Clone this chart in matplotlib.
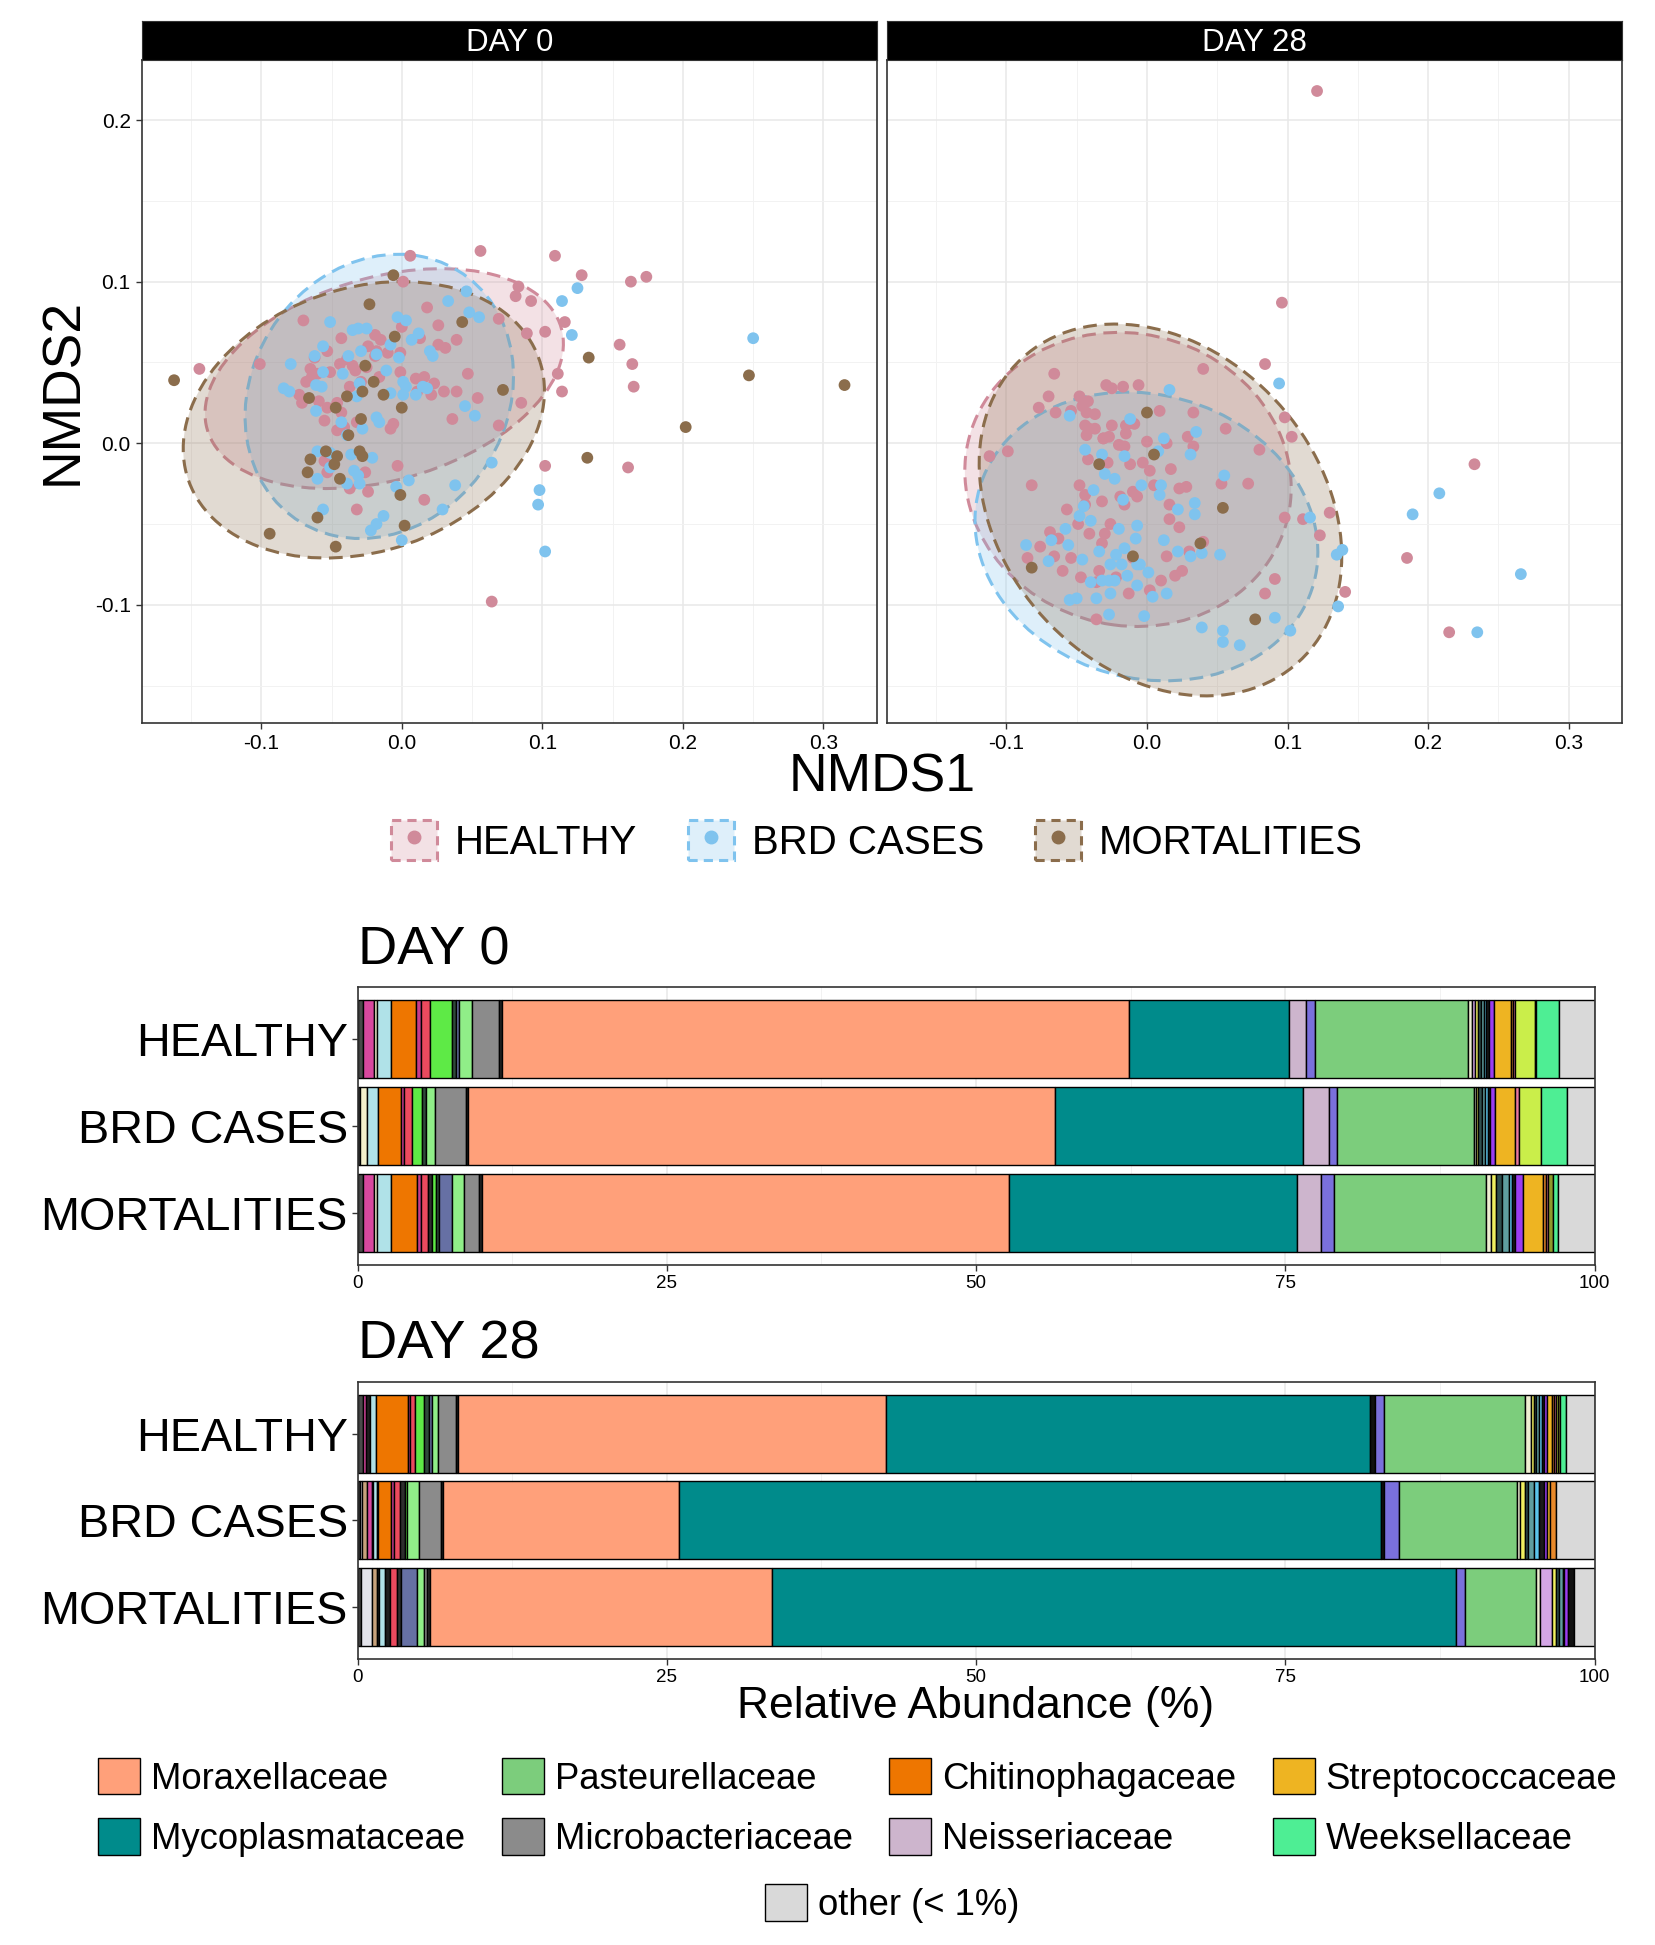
import numpy as np
import matplotlib
matplotlib.use("Agg")
import matplotlib.pyplot as plt
from matplotlib.patches import Ellipse, Patch
from matplotlib.lines import Line2D
from matplotlib.legend_handler import HandlerTuple
from matplotlib.colors import to_rgba

plt.rcParams["font.family"] = ["Liberation Sans", "DejaVu Sans"]
plt.rcParams["axes.unicode_minus"] = False

groups = ["HEALTHY", "BRD CASES", "MORTALITIES"]
group_colors = ["#d08a9a", "#7fc3ee", "#8b6d4c"]
days = ["DAY 0", "DAY 28"]

# NMDS scores
day0_healthy = [(0.056, 0.119), (0.006, 0.116), (0.109, 0.116), (0.128, 0.104), (0.174, 0.103),
                (0.163, 0.100), (0.001, 0.100), (0.083, 0.097), (0.081, 0.091), (0.092, 0.088),
                (0.018, 0.084), (-0.070, 0.076), (0.069, 0.077), (0.026, 0.073), (0.000, 0.072),
                (0.116, 0.075), (0.102, 0.069), (0.089, 0.068), (-0.043, 0.065), (-0.019, 0.067),
                (-0.015, 0.064), (0.039, 0.064), (0.026, 0.061), (0.031, 0.059), (0.013, 0.065),
                (-0.024, 0.060), (0.155, 0.061), (0.164, 0.049), (-0.144, 0.046), (-0.101, 0.049),
                (-0.062, 0.053), (-0.053, 0.057), (-0.044, 0.049), (-0.039, 0.052), (-0.035, 0.048),
                (-0.065, 0.046), (-0.064, 0.041), (-0.060, 0.043), (-0.051, 0.044), (-0.033, 0.045),
                (-0.025, 0.047), (-0.019, 0.054), (-0.010, 0.056), (-0.001, 0.056), (-0.001, 0.044),
                (-0.016, 0.041), (0.010, 0.040), (0.016, 0.041), (0.023, 0.037), (0.030, 0.032),
                (0.039, 0.032), (0.047, 0.043), (0.054, 0.028), (0.111, 0.043), (0.114, 0.032),
                (0.165, 0.035), (0.085, 0.025), (-0.073, 0.030), (-0.071, 0.025), (-0.059, 0.026),
                (-0.046, 0.025), (-0.053, 0.022), (-0.043, 0.019), (-0.055, 0.014), (-0.046, 0.008),
                (-0.041, 0.010), (-0.032, 0.013), (-0.008, 0.009), (-0.006, 0.012), (0.021, 0.030),
                (0.011, 0.032), (0.036, 0.015), (0.069, 0.011), (0.102, -0.014), (0.161, -0.015),
                (-0.003, -0.014), (-0.026, -0.018), (-0.053, -0.018), (-0.055, -0.011), (-0.037, -0.028),
                (-0.024, -0.030), (0.016, -0.035), (-0.032, -0.041), (0.064, -0.098), (-0.029, 0.038),
                (-0.037, 0.035), (-0.018, 0.057), (-0.068, 0.038)]
day0_brd = [(0.125, 0.096), (0.114, 0.088), (0.121, 0.067), (0.250, 0.065), (0.046, 0.094),
            (0.033, 0.088), (0.048, 0.081), (0.055, 0.078), (-0.003, 0.078), (0.003, 0.076),
            (-0.051, 0.075), (-0.035, 0.070), (-0.031, 0.071), (-0.025, 0.071), (0.012, 0.068),
            (0.007, 0.064), (-0.008, 0.061), (-0.002, 0.053), (0.020, 0.057), (0.022, 0.054),
            (-0.018, 0.055), (-0.029, 0.057), (-0.038, 0.054), (-0.056, 0.060), (-0.062, 0.054),
            (-0.079, 0.049), (-0.056, 0.044), (-0.042, 0.043), (-0.030, 0.037), (-0.011, 0.045),
            (0.001, 0.038), (0.003, 0.035), (0.015, 0.035), (0.018, 0.034), (-0.008, 0.031),
            (0.001, 0.030), (0.010, 0.030), (-0.032, 0.029), (-0.084, 0.034), (-0.080, 0.032),
            (-0.061, 0.036), (-0.057, 0.035), (0.045, 0.023), (0.052, 0.017), (-0.018, 0.016),
            (-0.016, 0.013), (-0.028, 0.009), (-0.039, 0.005), (-0.043, 0.013), (-0.061, 0.020),
            (-0.060, -0.005), (-0.051, -0.006), (-0.036, -0.007), (-0.021, -0.009), (0.064, -0.012),
            (-0.034, -0.017), (-0.031, -0.020), (-0.051, -0.015), (-0.060, -0.022), (-0.039, -0.025),
            (-0.030, -0.025), (-0.004, -0.027), (0.005, -0.023), (0.038, -0.026), (0.098, -0.029),
            (0.097, -0.038), (0.029, -0.041), (-0.013, -0.045), (-0.018, -0.050), (-0.022, -0.054),
            (-0.056, -0.041), (0.000, -0.060), (0.102, -0.067)]
day0_mort = [(-0.006, 0.104), (-0.023, 0.086), (0.043, 0.075), (-0.005, 0.066), (-0.026, 0.048),
             (-0.020, 0.038), (-0.013, 0.030), (-0.028, 0.032), (-0.039, 0.029), (-0.066, 0.028),
             (-0.047, 0.022), (0.000, 0.022), (-0.029, 0.015), (-0.038, 0.005), (0.072, 0.033),
             (0.133, 0.053), (0.247, 0.042), (0.315, 0.036), (0.202, 0.010), (0.132, -0.009),
             (-0.162, 0.039), (-0.054, -0.005), (-0.065, -0.010), (-0.046, -0.008), (-0.030, -0.005),
             (-0.028, -0.008), (-0.048, -0.013), (-0.067, -0.018), (-0.044, -0.022), (-0.001, -0.032),
             (-0.060, -0.046), (0.002, -0.051), (-0.094, -0.056), (-0.047, -0.064)]

day28_healthy = [(0.121, 0.218), (0.096, 0.087), (0.084, 0.049), (0.040, 0.046), (-0.066, 0.043),
                 (-0.070, 0.029), (-0.029, 0.036), (-0.025, 0.034), (-0.017, 0.035), (-0.006, 0.036),
                 (-0.048, 0.029), (-0.042, 0.026), (-0.046, 0.023), (-0.077, 0.022), (-0.065, 0.019),
                 (-0.054, 0.020), (-0.043, 0.019), (-0.037, 0.018), (0.009, 0.020), (0.033, 0.019),
                 (-0.009, 0.012), (-0.015, 0.011), (-0.025, 0.011), (-0.044, 0.011), (-0.041, 0.009),
                 (-0.037, 0.009), (-0.043, 0.005), (-0.015, 0.006), (-0.031, 0.003), (-0.027, 0.004),
                 (0.056, 0.009), (0.098, 0.016), (0.103, 0.004), (0.029, 0.004), (0.014, 0.000),
                 (0.000, 0.001), (0.033, -0.002), (0.080, -0.004), (-0.112, -0.008), (-0.099, -0.005),
                 (-0.016, -0.002), (-0.020, -0.001), (-0.031, 0.003), (-0.042, -0.010), (-0.028, -0.012),
                 (-0.003, -0.012), (-0.012, -0.013), (0.017, -0.016), (0.002, -0.017), (-0.082, -0.026),
                 (-0.048, -0.026), (-0.044, -0.032), (-0.032, -0.036), (-0.019, -0.033), (-0.010, -0.030),
                 (-0.007, -0.033), (0.005, -0.026), (0.028, -0.027), (0.023, -0.028), (0.053, -0.025),
                 (0.072, -0.025), (0.016, -0.038), (-0.057, -0.041), (-0.016, -0.038), (-0.044, -0.038),
                 (0.098, -0.046), (0.111, -0.047), (0.130, -0.043), (0.233, -0.013), (0.185, -0.071),
                 (0.215, -0.117), (0.123, -0.057), (0.141, -0.092), (0.091, -0.084), (0.084, -0.093),
                 (-0.069, -0.055), (-0.063, -0.059), (-0.049, -0.050), (-0.041, -0.056), (-0.032, -0.062),
                 (-0.030, -0.056), (-0.026, -0.050), (-0.085, -0.071), (-0.076, -0.064), (-0.066, -0.070),
                 (-0.060, -0.079), (-0.054, -0.071), (-0.047, -0.083), (-0.034, -0.079), (-0.036, -0.086),
                 (-0.013, -0.093), (0.002, -0.091), (0.010, -0.085), (0.020, -0.082), (0.025, -0.079),
                 (0.014, -0.070), (0.030, -0.067), (0.040, -0.061), (-0.036, -0.109), (-0.010, -0.071),
                 (0.023, -0.052), (0.016, -0.047), (-0.022, -0.083)]
day28_brd = [(0.094, 0.037), (0.016, 0.033), (-0.055, 0.017), (-0.012, 0.015), (0.035, 0.007),
             (0.012, 0.003), (0.031, -0.007), (-0.032, -0.007), (-0.016, -0.008), (-0.044, -0.004),
             (0.008, -0.005), (0.055, -0.020), (-0.030, -0.019), (-0.023, -0.022), (-0.004, -0.026),
             (0.010, -0.026), (0.009, -0.032), (-0.038, -0.029), (-0.017, -0.035), (0.034, -0.037),
             (0.022, -0.041), (0.034, -0.044), (-0.048, -0.045), (-0.040, -0.048), (-0.058, -0.053),
             (-0.020, -0.053), (-0.007, -0.051), (-0.008, -0.059), (0.012, -0.060), (-0.086, -0.063),
             (-0.068, -0.060), (-0.056, -0.063), (-0.034, -0.067), (-0.016, -0.065), (-0.022, -0.069),
             (0.022, -0.067), (0.031, -0.070), (0.039, -0.068), (0.052, -0.069), (-0.070, -0.073),
             (-0.046, -0.072), (-0.018, -0.075), (-0.026, -0.075), (-0.007, -0.075), (0.001, -0.080),
             (-0.005, -0.075), (-0.027, -0.085), (-0.023, -0.085), (-0.014, -0.082), (-0.007, -0.088),
             (-0.040, -0.086), (-0.032, -0.085), (-0.055, -0.097), (-0.050, -0.096), (-0.036, -0.096),
             (-0.026, -0.093), (0.004, -0.095), (0.014, -0.093), (-0.027, -0.106), (-0.002, -0.107),
             (0.039, -0.114), (0.054, -0.116), (0.054, -0.123), (0.066, -0.125), (0.091, -0.108),
             (0.102, -0.116), (0.116, -0.046), (0.135, -0.069), (0.139, -0.066), (0.136, -0.101),
             (0.189, -0.044), (0.208, -0.031), (0.235, -0.117), (0.266, -0.081), (-0.045, -0.039)]
day28_mort = [(0.000, 0.019), (0.005, -0.007), (-0.034, -0.013), (0.054, -0.040), (0.038, -0.062),
              (-0.010, -0.070), (-0.082, -0.077), (0.077, -0.109)]

# 95% ellipses: centre x, centre y, semi-axis a, semi-axis b, angle (deg)
day0_ellipses = [(-0.0125, 0.040, 0.1299, 0.0633, 12.7),
                 (-0.016, 0.029, 0.099, 0.084, 29.9),
                 (-0.027, 0.0145, 0.1306, 0.0823, 13.3)]
day28_ellipses = [(-0.0135, -0.0224, 0.1164, 0.0906, -6.7),
                  (-0.0004, -0.0577, 0.1228, 0.0882, -9.6),
                  (0.0096, -0.0413, 0.1379, 0.1042, -32.7)]

# relative abundance (%), families in stacking order
fam_order = ["dk1", "lav", "tan", "mag", "pale", "blk0", "lblue", "blk1", "Chitinophagaceae",
             "pink2", "red", "dk2", "bgreen", "dolive", "slate", "lgreen", "Microbacteriaceae",
             "blk2", "Moraxellaceae", "Mycoplasmataceae", "blk3", "Neisseriaceae", "sblue",
             "Pasteurellaceae", "pale2", "lilac", "yellow", "dslate", "cadet", "sky", "blk4",
             "purple", "Streptococcaceae", "dorange", "pink", "ygreen", "olive", "blk5",
             "Weeksellaceae", "other"]
fam_colors = {"dk1": "#4a4a4a", "lav": "#e3e3ea", "tan": "#c8a27c", "mag": "#d8489e",
              "pale": "#f2efcb", "blk0": "#1e1e1e", "lblue": "#b0e2e8", "blk1": "#1e1e1e",
              "Chitinophagaceae": "#ee7600", "pink2": "#c73b8c", "red": "#eb4a5e", "dk2": "#2e2e2e",
              "bgreen": "#5eea46", "dolive": "#2f4a3a", "slate": "#6670a4", "lgreen": "#90ee88",
              "Microbacteriaceae": "#8b8b8b", "blk2": "#262626", "Moraxellaceae": "#ffa07a",
              "Mycoplasmataceae": "#008b8b", "blk3": "#111111", "Neisseriaceae": "#cdb5cd",
              "sblue": "#7a70dc", "Pasteurellaceae": "#7ccd7c", "pale2": "#eeeed2", "lilac": "#d4a6e6",
              "yellow": "#f0f060", "dslate": "#2f4f4f", "cadet": "#5f9ea0", "sky": "#5bc4ea",
              "blk4": "#1a1a1a", "purple": "#9b3df0", "Streptococcaceae": "#eeb422",
              "dorange": "#e8892a", "pink": "#e8799e", "ygreen": "#caee4a", "olive": "#8e9a2a",
              "blk5": "#111111", "Weeksellaceae": "#4eee94", "other": "#d9d9d9"}

ab_day0_healthy = {"dk1": 0.42, "mag": 0.88, "pale": 0.26, "lblue": 1.15, "Chitinophagaceae": 1.98,
                   "pink2": 0.41, "red": 0.73, "bgreen": 1.83, "dolive": 0.26, "slate": 0.31,
                   "lgreen": 1.04, "Microbacteriaceae": 2.19, "blk2": 0.21, "Moraxellaceae": 50.73,
                   "Mycoplasmataceae": 12.9, "Neisseriaceae": 1.4, "sblue": 0.7,
                   "Pasteurellaceae": 12.36, "pale2": 0.35, "lilac": 0.22, "yellow": 0.27,
                   "dslate": 0.25, "cadet": 0.21, "sky": 0.2, "blk4": 0.21, "purple": 0.41,
                   "Streptococcaceae": 1.36, "dorange": 0.14, "pink": 0.21, "ygreen": 1.61,
                   "olive": 0.08, "Weeksellaceae": 1.85, "other": 2.87}
ab_day0_brd = {"dk1": 0.21, "pale": 0.57, "lblue": 0.89, "Chitinophagaceae": 1.82, "pink2": 0.26,
               "red": 0.63, "bgreen": 0.83, "dolive": 0.31, "lgreen": 0.73, "Microbacteriaceae": 2.5,
               "blk2": 0.21, "Moraxellaceae": 47.44, "Mycoplasmataceae": 20.06, "Neisseriaceae": 2.08,
               "sblue": 0.66, "Pasteurellaceae": 11.02, "pale2": 0.16, "yellow": 0.19, "dslate": 0.36,
               "cadet": 0.21, "sky": 0.22, "blk4": 0.19, "purple": 0.38, "Streptococcaceae": 1.63,
               "pink": 0.3, "ygreen": 1.85, "Weeksellaceae": 2.09, "other": 2.2}
ab_day0_mort = {"dk1": 0.42, "mag": 0.88, "pale": 0.26, "lblue": 1.15, "Chitinophagaceae": 2.08,
                "pink2": 0.31, "red": 0.63, "dk2": 0.26, "bgreen": 0.36, "dolive": 0.21, "slate": 1.10,
                "lgreen": 0.93, "Microbacteriaceae": 1.2, "blk2": 0.31, "Moraxellaceae": 42.56,
                "Mycoplasmataceae": 23.28, "Neisseriaceae": 1.98, "sblue": 1.04,
                "Pasteurellaceae": 12.24, "pale2": 0.41, "yellow": 0.41, "dslate": 0.49,
                "cadet": 0.54, "sky": 0.28, "blk4": 0.27, "purple": 0.6, "Streptococcaceae": 1.63,
                "dorange": 0.22, "pink": 0.16, "olive": 0.44, "Weeksellaceae": 0.38, "other": 2.97}
ab_day28_healthy = {"dk1": 0.46, "mag": 0.19, "blk0": 0.35, "lblue": 0.47, "Chitinophagaceae": 2.61,
                    "pink2": 0.19, "red": 0.4, "bgreen": 0.74, "dolive": 0.35, "slate": 0.22,
                    "lgreen": 0.54, "Microbacteriaceae": 1.41, "blk2": 0.22, "Moraxellaceae": 34.55,
                    "Mycoplasmataceae": 39.11, "blk3": 0.41, "sblue": 0.76, "Pasteurellaceae": 11.43,
                    "pale2": 0.47, "yellow": 0.19, "dslate": 0.21, "cadet": 0.22, "sky": 0.22,
                    "blk4": 0.21, "purple": 0.22, "Streptococcaceae": 0.38, "dorange": 0.17,
                    "pink": 0.16, "ygreen": 0.19, "olive": 0.19, "Weeksellaceae": 0.49, "other": 2.27}
ab_day28_brd = {"dk1": 0.19, "lav": 0.19, "tan": 0.35, "mag": 0.41, "blk0": 0.14, "lblue": 0.32,
                "blk1": 0.08, "Chitinophagaceae": 1.04, "pink2": 0.19, "red": 0.49, "dk2": 0.4,
                "bgreen": 0.19, "lgreen": 0.96, "Microbacteriaceae": 1.76, "blk2": 0.19,
                "Moraxellaceae": 19.1, "Mycoplasmataceae": 56.77, "blk3": 0.22, "sblue": 1.19,
                "Pasteurellaceae": 9.55, "pale2": 0.24, "yellow": 0.44, "dslate": 0.21, "cadet": 0.52,
                "sky": 0.36, "blk4": 0.43, "purple": 0.22, "Streptococcaceae": 0.22, "dorange": 0.49,
                "other": 3.14}
ab_day28_mort = {"dk1": 0.27, "lav": 0.93, "tan": 0.35, "blk0": 0.19, "lblue": 0.49, "blk1": 0.41,
                 "red": 0.54, "dk2": 0.35, "slate": 1.28, "lgreen": 0.6, "Microbacteriaceae": 0.2,
                 "blk2": 0.21, "Moraxellaceae": 27.66, "Mycoplasmataceae": 55.33, "sblue": 0.7,
                 "Pasteurellaceae": 5.77, "pale2": 0.28, "lilac": 1.03, "yellow": 0.33, "dslate": 0.22,
                 "cadet": 0.27, "blk4": 0.11, "purple": 0.36, "blk5": 0.46, "other": 1.66}

legend_fams = ["Moraxellaceae", "Mycoplasmataceae", "Pasteurellaceae", "Microbacteriaceae",
               "Chitinophagaceae", "Neisseriaceae", "Streptococcaceae", "Weeksellaceae"]

fig = plt.figure(figsize=(16.56, 19.45), dpi=100)

xticks = [-0.1, 0.0, 0.1, 0.2, 0.3]
yticks = [-0.1, 0.0, 0.1, 0.2]


def nmds_panel(left, title, pts_list, ells, show_y):
    ax = fig.add_axes([left, 0.6284, 0.4439, 0.3406])
    ax.set_xlim(-0.185, 0.338)
    ax.set_ylim(-0.173, 0.237)
    ax.set_xticks(xticks)
    ax.set_xticklabels([f"{v:.1f}" for v in xticks], fontsize=15)
    ax.set_yticks(yticks)
    ax.set_xticks([-0.15, -0.05, 0.05, 0.15, 0.25], minor=True)
    ax.set_yticks([-0.15, -0.05, 0.05, 0.15], minor=True)
    ax.tick_params(which="minor", length=0)
    ax.tick_params(which="major", length=4, width=1, color="#333333", pad=4)
    if show_y:
        ax.set_yticklabels([f"{v:.1f}" for v in yticks], fontsize=15)
    else:
        ax.set_yticklabels([])
        ax.tick_params(axis="y", which="major", length=0)
    ax.grid(which="major", color="#e8e8e8", linewidth=1.1)
    ax.grid(which="minor", color="#f2f2f2", linewidth=0.7)
    ax.set_axisbelow(True)
    for s in ax.spines.values():
        s.set_color("#333333")
        s.set_linewidth(1.2)
    for (cx, cy, a, b, ang), c in zip(ells, group_colors):
        ax.add_patch(Ellipse((cx, cy), 2 * a, 2 * b, angle=ang, facecolor=to_rgba(c, 0.25),
                             edgecolor=c, linestyle=(0, (4.5, 2.5)), linewidth=2.2, zorder=2))
    for pts, c in zip(pts_list, group_colors):
        p = np.array(pts)
        ax.scatter(p[:, 0], p[:, 1], s=72, color=c, edgecolors="none", zorder=3)
    strip = fig.add_axes([left, 0.969, 0.4439, 0.020])
    strip.set_facecolor("black")
    strip.set_xticks([])
    strip.set_yticks([])
    for s in strip.spines.values():
        s.set_color("#333333")
    strip.text(0.5, 0.45, title, color="white", fontsize=22.5, ha="center", va="center",
               transform=strip.transAxes)
    return ax


nmds_panel(0.0856, days[0], [day0_healthy, day0_brd, day0_mort], day0_ellipses, True)
nmds_panel(0.5356, days[1], [day28_healthy, day28_brd, day28_mort], day28_ellipses, False)

fig.text(0.5326, 0.600, "NMDS1", fontsize=38.5, ha="center", va="center")
fig.text(0.038, 0.7987, "NMDS2", fontsize=38.5, ha="center", va="center", rotation=90)

handles = []
for c in group_colors:
    box = Patch(facecolor=to_rgba(c, 0.25), edgecolor=c, linestyle=(0, (3, 2)), linewidth=2.2)
    dot = Line2D([], [], marker="o", color=c, linestyle="none", markersize=9)
    handles.append((box, dot))
fig.legend(handles, groups, loc="center", bbox_to_anchor=(0.5295, 0.5677), ncol=3,
           frameon=False, fontsize=29, handlelength=1.15, handleheight=1.15,
           handletextpad=0.45, columnspacing=1.25,
           handler_map={tuple: HandlerTuple(ndivide=1, pad=0)})


def abundance_panel(bottom, title, bars):
    ax = fig.add_axes([0.2159, bottom, 0.747, 0.1426])
    ypos = [3, 2, 1]
    for y, ab in zip(ypos, bars):
        left = 0.0
        for fam in fam_order:
            v = ab.get(fam, 0.0)
            if v <= 0:
                continue
            ax.barh(y, v, left=left, height=0.9, color=fam_colors[fam],
                    edgecolor="black", linewidth=1.0, zorder=2)
            left += v
    ax.set_xlim(0, 100)
    ax.set_ylim(0.4, 3.6)
    ax.set_yticks(ypos)
    ax.set_yticklabels(groups, fontsize=33.7)
    ax.set_xticks([0, 25, 50, 75, 100])
    ax.set_xticklabels(["0", "25", "50", "75", "100"], fontsize=13.5)
    ax.set_xticks([12.5, 37.5, 62.5, 87.5], minor=True)
    ax.tick_params(which="minor", length=0)
    ax.tick_params(which="major", length=4, width=1, color="#333333", pad=3)
    ax.grid(axis="x", which="major", color="#e8e8e8", linewidth=1.1)
    ax.grid(axis="x", which="minor", color="#f2f2f2", linewidth=0.7)
    ax.set_axisbelow(True)
    for s in ax.spines.values():
        s.set_color("#333333")
        s.set_linewidth(1.2)
    fig.text(0.2159, bottom + 0.1426 + 0.019, title, fontsize=39, ha="left", va="center")
    return ax


abundance_panel(0.3497, days[0], [ab_day0_healthy, ab_day0_brd, ab_day0_mort])
abundance_panel(0.1471, days[1], [ab_day28_healthy, ab_day28_brd, ab_day28_mort])

fig.text(0.589, 0.1226, "Relative Abundance (%)", fontsize=32, ha="center", va="center")

fam_handles = [Patch(facecolor=fam_colors[f], edgecolor="black", linewidth=1.0) for f in legend_fams]
fig.legend(fam_handles, legend_fams, loc="center", bbox_to_anchor=(0.518, 0.0707), ncol=4,
           frameon=False, fontsize=26.3, handlelength=1.15, handleheight=1.15,
           handletextpad=0.3, columnspacing=1.0, labelspacing=0.6)
fig.legend([Patch(facecolor=fam_colors["other"], edgecolor="black", linewidth=1.0)],
           ["other (< 1%)"], loc="center", bbox_to_anchor=(0.539, 0.0213),
           frameon=False, fontsize=26.3, handlelength=1.15, handleheight=1.15,
           handletextpad=0.3)

fig.savefig("out.png", dpi=100)
